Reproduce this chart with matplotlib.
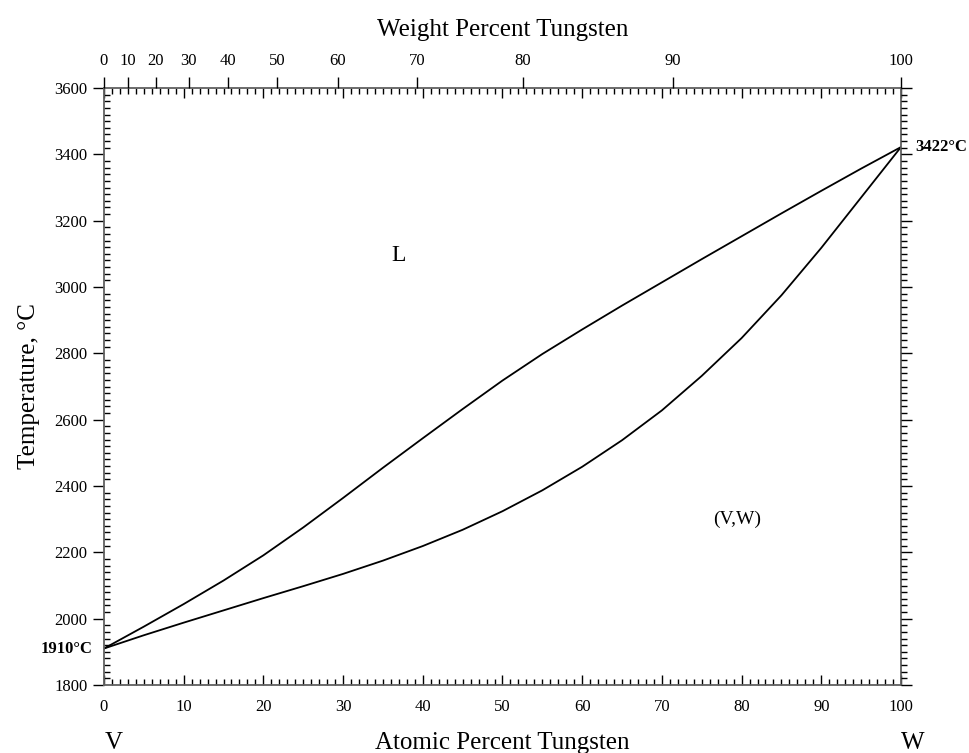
import numpy as np
import matplotlib.pyplot as plt
from matplotlib.ticker import MultipleLocator

plt.rcParams['font.family'] = ['Liberation Serif', 'DejaVu Serif']

# composition, atomic percent W
at_pct = [0, 5, 10, 15, 20, 25, 30, 35, 40, 45, 50, 55, 60, 65, 70, 75, 80, 85, 90, 95, 100]
# liquidus and solidus, deg C
liquidus = [1910, 1976, 2044, 2115, 2191, 2275, 2364, 2455, 2544, 2632, 2718, 2798,
            2872, 2944, 3014, 3084, 3153, 3222, 3290, 3357, 3422]
solidus = [1910, 1950, 1988, 2025, 2062, 2098, 2135, 2175, 2219, 2268, 2324, 2387,
           2458, 2538, 2628, 2732, 2846, 2975, 3118, 3270, 3422]

wt_ticks = [0, 10, 20, 30, 40, 50, 60, 70, 80, 90, 100]
y_ticks = [1800, 2000, 2200, 2400, 2600, 2800, 3000, 3200, 3400, 3600]

M_W = 183.84
M_V = 50.9415


def wt_to_at(w):
    w = np.asarray(w, dtype=float)
    nw = w / M_W
    nv = (100 - w) / M_V
    return 100 * nw / (nw + nv)


fig = plt.figure(figsize=(9.69, 7.53), dpi=100)
ax = fig.add_axes([0.1073, 0.0903, 0.8225, 0.7928])

ax.plot(at_pct, liquidus, color='black', lw=1.3)
ax.plot(at_pct, solidus, color='black', lw=1.3)

ax.set_xlim(0, 100)
ax.set_ylim(1800, 3600)

# right axis: all ticks outward
axr = ax.twinx()
axr.set_ylim(ax.get_ylim())
axr.set_yticks(y_ticks)
axr.yaxis.set_minor_locator(MultipleLocator(20))
axr.tick_params(axis='y', which='major', direction='out', length=8, width=1.0,
                labelright=False, left=False, right=True)
axr.tick_params(axis='y', which='minor', direction='out', length=4, width=1.0,
                left=False, right=True)
for s in axr.spines.values():
    s.set_visible(False)

# top axis: weight percent
axt = ax.twiny()
axt.set_xlim(ax.get_xlim())
axt.set_xticks(wt_to_at(wt_ticks))
axt.set_xticklabels([str(w) for w in wt_ticks])
axt.tick_params(axis='x', which='major', direction='out', length=8, width=1.0,
                labelsize=12, pad=6, bottom=False, top=True)
for s in axt.spines.values():
    s.set_visible(False)

for s in ax.spines.values():
    s.set_color('#606060')
    s.set_linewidth(1.3)

# bottom / top (atomic %) ticks, inward
ax.xaxis.set_major_locator(MultipleLocator(10))
ax.xaxis.set_minor_locator(MultipleLocator(1))
ax.tick_params(axis='x', which='both', direction='in', top=True, bottom=True,
               labeltop=False, labelbottom=True, labelsize=12, pad=10, color='black')
ax.tick_params(axis='x', which='major', length=7, width=1.0)
ax.tick_params(axis='x', which='minor', length=4, width=1.0)

# left axis: major outward, minor inward
ax.set_yticks(y_ticks)
ax.yaxis.set_minor_locator(MultipleLocator(20))
ax.tick_params(axis='y', which='major', direction='out', length=8, width=1.0,
               labelsize=12, pad=4, left=True, right=False)
ax.tick_params(axis='y', which='minor', direction='in', length=4, width=1.0,
               left=True, right=False)

axt.set_xlabel('Weight Percent Tungsten', fontsize=18, labelpad=12)
ax.set_xlabel('Atomic Percent Tungsten', fontsize=18, labelpad=12)
ax.set_ylabel('Temperature, \u00b0C', fontsize=18, labelpad=10)

ax.text(0.0125, -0.078, 'V', transform=ax.transAxes, fontsize=18, ha='center', va='top')
ax.text(1.015, -0.078, 'W', transform=ax.transAxes, fontsize=18, ha='center', va='top')

ax.annotate('1910\u00b0C', xy=(0, 1910), xytext=(-8, 0), textcoords='offset points',
            fontsize=12, fontweight='bold', ha='right', va='center')
ax.annotate('3422\u00b0C', xy=(100, 3422), xytext=(10, 0), textcoords='offset points',
            fontsize=12, fontweight='bold', ha='left', va='center')

ax.text(36.9, 3096, 'L', fontsize=17, ha='center', va='center')
ax.text(79.5, 2298, '(V,W)', fontsize=14, ha='center', va='center')

fig.savefig('out.png', dpi=100)
